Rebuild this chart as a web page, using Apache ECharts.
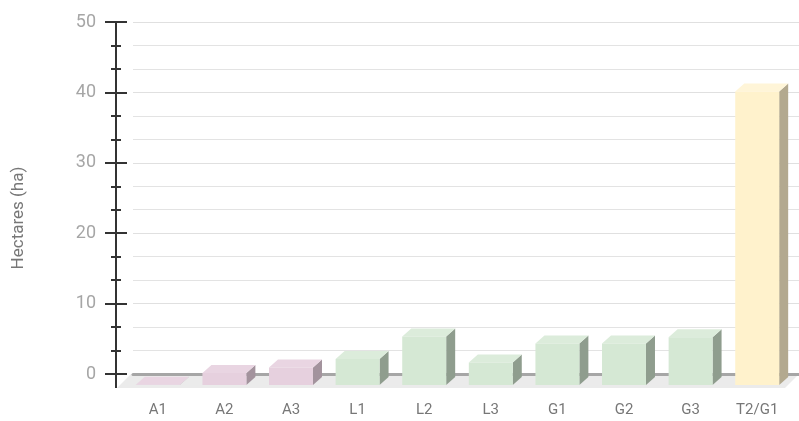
<!DOCTYPE html>
<html>
<head>
<meta charset="utf-8">
<script src="https://cdn.jsdelivr.net/npm/echarts@6/dist/echarts.min.js"></script>
<style>
html, body { margin: 0; padding: 0; background: #fff; }
#bar-chart { width: 799px; height: 421px; }
</style>
</head>
<body>
<div id="bar-chart"></div>
<script>
// data
const categories = ['A1', 'A2', 'A3', 'L1', 'L2', 'L3', 'G1', 'G2', 'G3', 'T2/G1'];
const hectares = [0.05, 1.7, 2.5, 3.7, 6.9, 3.2, 5.9, 5.9, 6.8, 41.7];
const groups = ['A', 'A', 'A', 'L', 'L', 'L', 'G', 'G', 'G', 'T'];
const yMin = 0, yMax = 50, yStep = 10;

// front / top / side colours for each group
const palette = {
    A: { front: '#e6d0de', top: '#e9d5e2', side: '#a3939d' },
    L: { front: '#d5e8d4', top: '#dcecdb', side: '#8f9d8e' },
    G: { front: '#d5e8d4', top: '#dcecdb', side: '#8f9d8e' },
    T: { front: '#fff2cc', top: '#fff5d8', side: '#b3a98f' }
};

const depthX = 9, depthY = 8, drop = 11, shiftX = 8.5;

function renderBar(params, api) {
    let i = api.value(0);
    let v = api.value(1);
    let top = api.coord([i, v]);
    let zero = api.coord([i, 0]);
    let w = api.size([1, 0])[0] * 0.66;
    let cx = top[0] - shiftX;
    let xl = cx - w / 2, xr = cx + w / 2;
    let yb = zero[1] + drop;
    let yt = yb - (zero[1] - top[1]);
    let c = palette[groups[i]];
    return {
        type: 'group',
        children: [
            { type: 'polygon', shape: { points: [[xr, yb], [xr, yt], [xr + depthX, yt - depthY], [xr + depthX, yb - depthY]] }, style: { fill: c.side } },
            { type: 'polygon', shape: { points: [[xl, yt], [xr, yt], [xr + depthX, yt - depthY], [xl + depthX, yt - depthY]] }, style: { fill: c.top } },
            { type: 'rect', shape: { x: xl, y: yt, width: w, height: yb - yt }, style: { fill: c.front } }
        ]
    };
}

// grey floor under the bars + the axis line running down to it
function renderFloor(params, api) {
    let cs = params.coordSys;
    let zy = api.coord([0, 0])[1];
    let d = 14;
    let ax = cs.x - 17;
    return {
        type: 'group',
        children: [
            { type: 'polygon', shape: { points: [[cs.x - 2, zy], [cs.x + cs.width, zy], [cs.x + cs.width - d, zy + d], [cs.x - 2 - d, zy + d]] }, style: { fill: '#ebebeb' } },
            { type: 'line', shape: { x1: ax, y1: zy, x2: ax, y2: zy + d }, style: { stroke: '#333', lineWidth: 2 } }
        ]
    };
}

let chart = echarts.init(document.getElementById('bar-chart'));

let yBase = {
    type: 'value',
    min: yMin,
    max: yMax,
    interval: yStep,
    position: 'left',
    offset: 17
};

let option = {
    animation: false,
    textStyle: { fontFamily: 'Roboto' },
    grid: { left: 133, right: -4, top: 22, bottom: 47 },
    xAxis: {
        type: 'category',
        data: categories,
        axisLine: { lineStyle: { color: '#a6a6a6', width: 3 } },
        axisTick: { show: false },
        axisLabel: { color: '#777', fontSize: 15, margin: 29, padding: [0, 17, 0, 0], fontFamily: 'Roboto' }
    },
    yAxis: [
        Object.assign({}, yBase, {
            name: 'Hectares (ha)',
            nameLocation: 'middle',
            nameGap: 89,
            nameTextStyle: { color: '#777', fontSize: 17, fontFamily: 'Roboto', padding: [0, 40, 0, 0] },
            axisLine: { show: true, lineStyle: { color: '#333', width: 2 } },
            axisTick: { show: true, length: 11, lineStyle: { color: '#333', width: 2 } },
            minorTick: { show: true, splitNumber: 3, length: 5, lineStyle: { color: '#333', width: 2 } },
            axisLabel: { color: '#a6a6a6', fontSize: 18, margin: 20, fontFamily: 'Roboto' },
            splitLine: { show: true, lineStyle: { color: '#e0e0e0', width: 1 } },
            minorSplitLine: { show: true, lineStyle: { color: '#e3e3e3', width: 1 } }
        }),
        Object.assign({}, yBase, {
            axisLine: { show: true, lineStyle: { color: '#333', width: 2 } },
            axisTick: { show: true, inside: true, length: 11, lineStyle: { color: '#333', width: 2 } },
            minorTick: { show: true, splitNumber: 3, length: 5, lineStyle: { color: '#333', width: 2 } },
            axisLabel: { show: false },
            splitLine: { show: false }
        })
    ],
    series: [
        {
            type: 'custom',
            z: -1,
            silent: true,
            renderItem: renderFloor,
            data: [[0, 0]]
        },
        {
            type: 'custom',
            renderItem: renderBar,
            encode: { x: 0, y: 1 },
            data: categories.map((c, i) => [i, hectares[i]])
        }
    ]
};
chart.setOption(option);
</script>
</body>
</html>
